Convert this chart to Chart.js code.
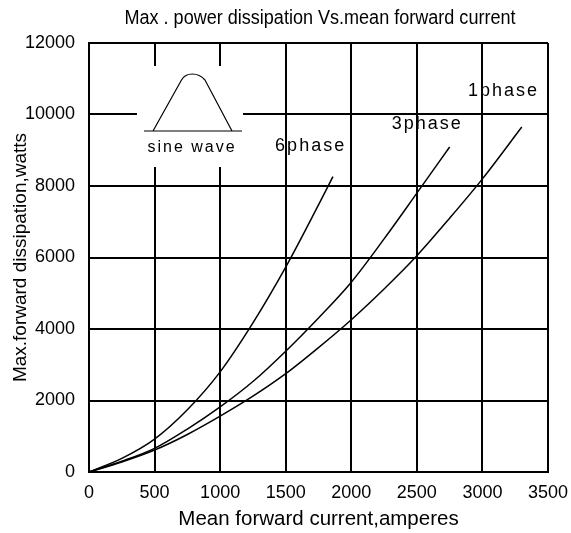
<!DOCTYPE html>
<html>
<head>
<meta charset="utf-8">
<script src="https://cdn.jsdelivr.net/npm/chart.js@4.4.1/dist/chart.umd.min.js"></script>
<style>
  html, body { margin: 0; padding: 0; background: #fff; }
  #wrap { width: 571px; height: 533px; }
</style>
</head>
<body>
<div id="wrap"><canvas id="chart"></canvas></div>
<script>
// values
const current6 = [0, 250, 500, 750, 1000, 1250, 1500, 1750, 1860];
const power6 = [0, 380, 920, 1740, 2800, 4170, 5730, 7470, 8260];
const current3 = [0, 250, 500, 750, 1000, 1250, 1500, 1750, 2000, 2250, 2500, 2750];
const power3 = [0, 300, 660, 1200, 1820, 2530, 3380, 4310, 5310, 6520, 7800, 9090];
const current1 = [0, 250, 500, 750, 1000, 1250, 1500, 1750, 2000, 2250, 2500, 2750, 3000, 3300];
const power1 = [0, 280, 614, 1050, 1562, 2120, 2750, 3480, 4260, 5120, 6050, 7100, 8200, 9650];
const xTicks = [0, 500, 1000, 1500, 2000, 2500, 3000, 3500];
const yTicks = [0, 2000, 4000, 6000, 8000, 10000, 12000];
const seriesNames = ["6phase", "3phase", "1phase"];
// where each curve name sits (x amperes, y watts)
const labelAnchors = [[1690, 9110], [2580, 9720], [3160, 10650]];

const FONT = "'Liberation Sans', Arial, sans-serif";

function toPoints(xs, ys) {
  return xs.map((x, i) => ({ x: x, y: ys[i] }));
}

const extras = {
  id: "extras",
  afterDraw(chart) {
    const ctx = chart.ctx;
    const xs = chart.scales.x, ys = chart.scales.y;
    ctx.save();
    ctx.fillStyle = "#000";
    ctx.textAlign = "center";
    ctx.textBaseline = "middle";

    // title, squeezed a little like the original narrow face
    const title = "Max . power dissipation Vs.mean forward current";
    ctx.font = "20px " + FONT;
    const w = ctx.measureText(title).width;
    ctx.save();
    ctx.translate(320, 18);
    ctx.scale(391 / w, 1);
    ctx.fillText(title, 0, 0);
    ctx.restore();

    // curve names
    ctx.font = "18px " + FONT;
    ctx.letterSpacing = "2px";
    seriesNames.forEach((name, i) => {
      const a = labelAnchors[i];
      ctx.fillText(name, xs.getPixelForValue(a[0]), ys.getPixelForValue(a[1]));
    });

    // sine wave inset
    ctx.letterSpacing = "0px";
    ctx.fillStyle = "#fff";
    ctx.fillRect(137, 66, 106, 101);
    ctx.strokeStyle = "#000";
    ctx.lineWidth = 1.2;
    ctx.beginPath();
    ctx.moveTo(144, 131);
    ctx.lineTo(242, 131);
    ctx.moveTo(153, 131);
    ctx.lineTo(181.5, 80);
    ctx.bezierCurveTo(186, 72, 198, 72, 205, 80);
    ctx.lineTo(232, 131);
    ctx.stroke();
    ctx.fillStyle = "#000";
    ctx.font = "16px " + FONT;
    ctx.letterSpacing = "2px";
    ctx.fillText("sine wave", 192, 148);
    ctx.restore();
  }
};

new Chart(document.getElementById("chart"), {
  type: "line",
  data: {
    datasets: [
      { label: seriesNames[0], data: toPoints(current6, power6) },
      { label: seriesNames[1], data: toPoints(current3, power3) },
      { label: seriesNames[2], data: toPoints(current1, power1) }
    ]
  },
  options: {
    responsive: true,
    maintainAspectRatio: false,
    animation: false,
    layout: { padding: { top: 43, right: 23, left: 0, bottom: 0 } },
    elements: {
      line: { borderColor: "#000", borderWidth: 1.5, tension: 0.4, cubicInterpolationMode: "monotone", fill: false },
      point: { radius: 0 }
    },
    plugins: { legend: { display: false }, tooltip: { enabled: false }, title: { display: false } },
    scales: {
      x: {
        type: "linear",
        min: 0, max: 3500,
        afterBuildTicks: s => { s.ticks = xTicks.map(v => ({ value: v })); },
        afterFit: s => { s.height = 61; s.paddingRight = 0; s.paddingLeft = 0; },
        grid: { color: "#000", lineWidth: 2, drawTicks: false },
        border: { color: "#000", width: 2 },
        ticks: { color: "#000", font: { family: FONT, size: 18 }, padding: 10, maxRotation: 0,
                 callback: v => String(v) },
        title: { display: true, text: "Mean forward current,amperes", color: "#000",
                 font: { family: FONT, size: 20.5 }, padding: { top: 0, bottom: 1 } }
      },
      y: {
        type: "linear",
        min: 0, max: 12000,
        afterBuildTicks: s => { s.ticks = yTicks.map(v => ({ value: v })); },
        afterFit: s => { s.width = 89; },
        grid: { color: "#000", lineWidth: 2, drawTicks: false },
        border: { color: "#000", width: 2 },
        ticks: { color: "#000", font: { family: FONT, size: 18 }, padding: 14,
                 callback: v => String(v) },
        title: { display: true, text: "Max.forward dissipation,watts", color: "#000",
                 font: { family: FONT, size: 19 }, padding: { top: 9, bottom: 0 } }
      }
    }
  },
  plugins: [extras]
});
</script>
</body>
</html>
